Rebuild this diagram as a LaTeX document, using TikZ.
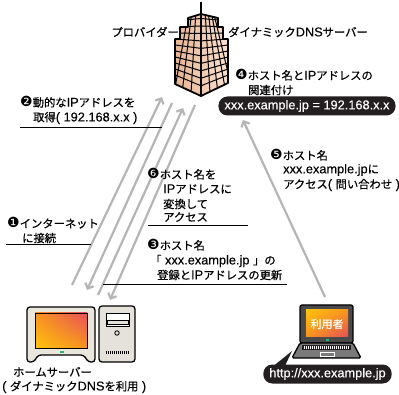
\documentclass[tikz,border=0pt]{standalone}
\usepackage{fontspec}
\setmainfont{Noto Sans CJK JP}[FakeBold=0.6]
\newfontfamily\dingfont{DejaVu Sans}
\newfontfamily\latf{Liberation Sans}[Scale=1.13,FakeBold=0.3]
\usetikzlibrary{arrows.meta,shadings}

\definecolor{flowgray}{HTML}{B5B5B5}
\definecolor{pillblack}{HTML}{231F20}
\definecolor{devbeige}{HTML}{E9E6DC}
\definecolor{towergray}{HTML}{E4E2DA}
\definecolor{lidgray}{HTML}{4A4A4A}
\definecolor{basegray}{HTML}{7A7A7A}
\definecolor{brickA}{HTML}{E6B08C}
\definecolor{brickB}{HTML}{FBE6D6}
\definecolor{ledgreen}{HTML}{2BB673}
\definecolor{scrYellow}{HTML}{FFC20E}
\definecolor{scrOrange}{HTML}{F7941D}
\definecolor{scrRed}{HTML}{E94E5B}

% circled step number and Latin runs
\newcommand\stepno[1]{{\dingfont\fontsize{14}{14}\selectfont #1}}
\newcommand\lat[1]{{\latf #1}}

\begin{document}
\begin{tikzpicture}[x=1pt,y=-1pt,
  lbl/.style={anchor=west,inner sep=0pt,font=\fontsize{11.3}{13}\selectfont},
  lblr/.style={anchor=east,inner sep=0pt,font=\fontsize{11.3}{13}\selectfont},
  flow/.style={draw=flowgray,line width=2.2pt,-{Straight Barb[length=4.5pt,width=9pt]}},
  rule/.style={draw=black,line width=0.8pt},
  pill/.style={fill=pillblack,text=white,rounded corners=9pt,minimum height=19pt,
    inner xsep=6pt,inner ysep=0pt,font=\fontsize{11.3}{13}\selectfont},
  outline/.style={draw=black,line width=1.3pt,line join=round}]

\useasboundingbox (0,0) rectangle (399,395);

% ---------- building (provider / dynamic DNS server) ----------
\draw[line width=1.6pt] (201,2) -- (201,16);
\begin{scope}
\path[clip] (201,14) -- (218,18) -- (218,27) -- (223,27) -- (223,39) -- (228,39)
  -- (228,83) -- (201,96) -- (175,84) -- (175,39) -- (180,39) -- (180,27)
  -- (188,27) -- (188,18) -- cycle;
\shade[left color=brickA,right color=brickB] (170,10) rectangle (235,110);
\foreach \y in {15,21,27,33,39,45,51,57,63,69,75} {
  \pgfmathsetmacro\d{-4+(\y-15)/69*17}
  \draw[line width=1pt] (170,\y-0.2*\d) -- (201,\y+\d) -- (233,\y-0.18*\d);
}
\foreach \x/\t in {180/-0.6,186/-0.4,193/-0.2,208/0.2,214/0.4,220/0.6,225/0.8}
  \draw[line width=1pt] (\x-15*\t,10) -- (\x+15*\t,110);
\draw[line width=1.6pt] (201,10) -- (201,110);
\end{scope}
\draw[outline,line width=1.8pt] (201,14) -- (218,18) -- (218,27) -- (223,27) -- (223,39) -- (228,39)
  -- (228,83) -- (201,96) -- (175,84) -- (175,39) -- (180,39) -- (180,27)
  -- (188,27) -- (188,18) -- cycle;

\node[lblr] (prov) at (179,32) {プロバイダー};
\node[lbl] (ddns) at (228,32) {ダイナミック\lat{DNS}サーバー};

% ---------- home server ----------
\draw[outline,fill=devbeige,rounded corners=3pt] (27,307) -- (95,307) -- (95,362)
  -- (88,362) -- (84,355) -- (38,355) -- (34,362) -- (27,362) -- cycle;
\shade[upper left=scrOrange,upper right=scrRed,
  lower left=scrYellow,lower right=scrOrange] (35,313) rectangle (87,348);
\draw[line width=0.6pt] (35,313) rectangle (87,348);
\fill[ledgreen] (60,351.5) rectangle (64,353);
\draw[outline,fill=towergray,rounded corners=3pt] (99,306) rectangle (135,362);
\draw[line width=0.9pt,fill=white] (106,313) rectangle (129,326);
\draw[line width=0.9pt,fill=towergray] (107,320) rectangle (128,324);
\draw[line width=0.9pt] (117,333) circle (2.2);
\foreach \x in {106,108,...,128} \draw[line width=0.6pt] (\x,351) -- (\x,354);
\coordinate (srvA) at (72,285);
\coordinate (srvB) at (87,290);
\coordinate (srvC) at (98,295);
\coordinate (srvD) at (110,300);

\node[lbl] (srvname) at (13,372) {ホームサーバー};
\node[lbl] (srvnote) at (2,387) {\lat{( }ダイナミック\lat{DNS}を利用\lat{ )}};

% ---------- user laptop ----------
\draw[outline,fill=lidgray,rounded corners=2pt] (300,305) rectangle (353,343);
\shade[upper left=scrYellow,upper right=scrOrange,lower left=scrOrange,lower right=scrRed]
  (306,310) rectangle (348,337);
\node[inner sep=0pt,text=white,font=\fontsize{11}{12}\selectfont] (usr) at (327,324) {利用者};
\fill[ledgreen] (325.5,339.5) rectangle (328.5,341);
\draw[outline,fill=basegray,rounded corners=1.5pt] (300,343) -- (353,343) -- (361,358) -- (292,358) -- cycle;
\fill[pillblack] (302,345.5) rectangle (351,350.5);
\foreach \x in {304,306,...,349} \draw[white,line width=0.5pt] (\x,346.5) -- (\x,349.5);
\draw[white,line width=0.6pt] (320,352) rectangle (334,356);
\coordinate (lapTop) at (325,297);

% address bar bubble
\fill[pillblack] (271,368) -- (292,351) -- (284,368) -- cycle;
\node[pill] (url) at (327.5,374) {\lat{http://xxx.example.jp}};

% name resolution result
\node[pill] (map) at (307,106) {\lat{xxx.example.jp = 192.168.x.x}};
\coordinate (mapIn) at (243,120);

% ---------- flows ----------
\coordinate (bldA) at (162,97);
\coordinate (bldB) at (172,103);
\coordinate (bldC) at (183,108);
\coordinate (bldD) at (195,105);
\draw[flow] (srvA) -- (bldA);
\draw[flow] (bldB) -- (srvB);
\draw[flow] (srvC) -- (bldC);
\draw[flow] (bldD) -- (srvD);
\draw[flow] (lapTop) -- (mapIn);

% ---------- step labels ----------
\node[lbl] (s2a) at (20,102) {\stepno{❷}動的な\lat{IP}アドレスを};
\node[lbl] (s2b) at (33,118) {取得\lat{( 192.168.x.x )}};
\draw[rule] (20,127) -- (162,127);

\node[lbl] (s4a) at (235,75) {\stepno{❹}ホスト名と\lat{IP}アドレスの};
\node[lbl] (s4b) at (248,90) {関連付け};

\node[lbl] (s6a) at (147,174) {\stepno{❻}ホスト名を};
\node[lbl] (s6b) at (163,189) {\lat{IP}アドレスに};
\node[lbl] (s6c) at (163,204) {変換して};
\node[lbl] (s6d) at (163,217) {アクセス};
\draw[rule] (148,225) -- (248,225);

\node[lbl] (s5a) at (270,155) {\stepno{❺}ホスト名};
\node[lbl] (s5b) at (283,170) {\lat{xxx.example.jp}に};
\node[lbl] (s5c) at (283,185) {アクセス\lat{( }問い合わせ\lat{ )}};

\node[lbl] (s1a) at (7,223) {\stepno{❶}インターネット};
\node[lbl] (s1b) at (22,238) {に接続};
\draw[rule] (6,244) -- (91,244);

\node[lbl] (s3a) at (147,245) {\stepno{❸}ホスト名};
\node[lbl] (s3b) at (150,261) {「\lat{ xxx.example.jp }」の};
\node[lbl] (s3c) at (157,275) {登録と\lat{IP}アドレスの更新};
\draw[rule] (103,284) -- (287,284);

\end{tikzpicture}
\end{document}
